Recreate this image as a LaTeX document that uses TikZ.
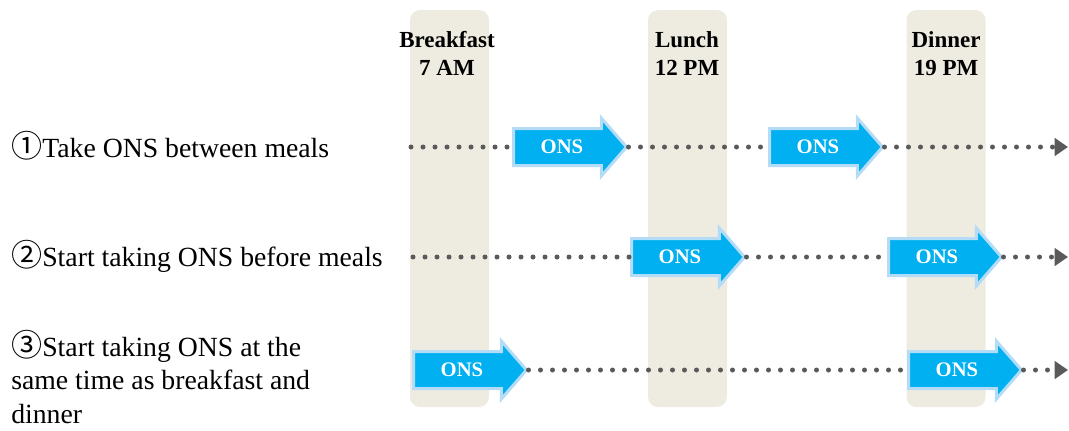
\documentclass[tikz,border=0pt]{standalone}
\usepackage{fontspec}
\setmainfont{Liberation Serif}
\newfontfamily\circfont[Scale=1.12]{Noto Sans CJK JP}
\usetikzlibrary{shapes.arrows,arrows.meta}

% one unit of the drawing grid
\newdimen\pxu
\pxu=0.75pt

\definecolor{colbg}{HTML}{EEECE1}
\definecolor{onsblue}{HTML}{00B0F0}
\definecolor{onsedge}{HTML}{B4DCF6}
\definecolor{dotgray}{HTML}{5A5A5A}

\tikzset{
  mealcol/.style={fill=colbg, draw=none, rounded corners=7.5pt,
    minimum width=79\pxu, minimum height=397\pxu, inner sep=0pt},
  mealhead/.style={font=\bfseries\fontsize{17.25}{21}\selectfont,
    align=center, inner sep=0pt, anchor=base},
  rowlabel/.style={font=\fontsize{20.8}{25.1}\selectfont,
    align=left, inner sep=0pt, anchor=base west},
  onsarrow/.style={single arrow, fill=onsblue, draw=onsedge,
    line width=2.25pt, anchor=tail,
    font=\bfseries\fontsize{15.5}{18}\selectfont, text=white,
    text height=10.3pt, text depth=0pt,
    inner xsep=0pt, inner ysep=7.6pt,
    single arrow head extend=7.9pt,
    single arrow tip angle=98,
    minimum height=84.75pt},
  dotline/.style={draw=dotgray, line width=3.75pt, line cap=round,
    dash pattern=on 0pt off 9pt},
  endtip/.style={-{Triangle[length=10pt,width=13pt]}},
}

\begin{document}
\begin{tikzpicture}[x=0.75pt, y=-0.75pt]
  \useasboundingbox (0,0) rectangle (1069,430);

  % meal columns
  \node[mealcol] (bcol) at (449.5,208.5) {};
  \node[mealcol] (lcol) at (687.5,208.5) {};
  \node[mealcol] (dcol) at (946,208.5) {};

  % meal headings (anchored at the baseline of the time line)
  \node[mealhead] (bhead) at (447,75) {Breakfast\\7 AM};
  \node[mealhead] (lhead) at (687,75) {Lunch\\12 PM};
  \node[mealhead] (dhead) at (946,75) {Dinner\\19 PM};

  % row labels (anchored at the baseline of their last line)
  \node[rowlabel] (lab1) at (11,157) {{\circfont ①}Take ONS between meals};
  \node[rowlabel] (lab2) at (11,266) {{\circfont ②}Start taking ONS before meals};
  \node[rowlabel] (lab3) at (11,423) {{\circfont ③}Start taking ONS at the\\same time as breakfast and\\dinner};

  % row 1
  \coordinate (r1s) at (411,147);
  \coordinate (r1e) at (1068,147);
  \node[onsarrow] (a11) at (512,147) {ONS};
  \node[onsarrow] (a12) at (768,147) {ONS};
  \draw[dotline] (r1s) -- (a11.tail);
  \draw[dotline] (a11.tip) -- (a12.tail);
  \draw[dotline, endtip] (a12.tip) -- (r1e);

  % row 2
  \coordinate (r2s) at (413,257);
  \coordinate (r2e) at (1068,257);
  \node[onsarrow] (a21) at (630,257) {ONS};
  \node[onsarrow] (a22) at (887,257) {ONS};
  \draw[dotline] (r2s) -- (a21.tail);
  \draw[dotline] (a21.tip) -- (a22.tail);
  \draw[dotline, endtip] (a22.tip) -- (r2e);

  % row 3
  \coordinate (r3e) at (1068,370);
  \node[onsarrow] (a31) at (412,370) {ONS};
  \node[onsarrow] (a32) at (907,370) {ONS};
  \draw[dotline] (a31.tip) -- (a32.tail);
  \draw[dotline, endtip] (a32.tip) -- (r3e);
\end{tikzpicture}
\end{document}
